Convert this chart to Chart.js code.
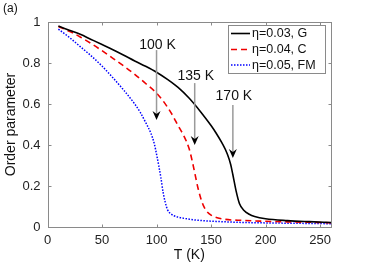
<!DOCTYPE html>
<html>
<head>
<meta charset="utf-8">
<script src="https://cdn.jsdelivr.net/npm/chart.js@4.4.1/dist/chart.umd.min.js"></script>
<style>
html,body{margin:0;padding:0;background:#fff;}
#wrap{width:366px;height:267px;position:relative;}
</style>
</head>
<body>
<div id="wrap"><canvas id="c" width="366" height="267"></canvas></div>
<script>
// ---- data ----
const tG = [10,20,30,40,50,60,70,80,90,100,110,120,130,140,150,155,160,165,168,170,173,176,180,185,190,200,220,240,260];
const vG = [0.98,0.96,0.94,0.915,0.89,0.865,0.838,0.81,0.784,0.755,0.72,0.68,0.628,0.565,0.495,0.455,0.41,0.355,0.305,0.255,0.175,0.115,0.082,0.062,0.051,0.04,0.031,0.026,0.022];
const tC = [10,20,30,40,50,60,70,80,90,100,105,110,115,120,125,130,133,136,138,140,143,146,150,160,180,200,220,240,260];
const vC = [0.978,0.955,0.927,0.895,0.86,0.823,0.785,0.745,0.70,0.653,0.622,0.585,0.542,0.492,0.445,0.38,0.315,0.24,0.19,0.15,0.104,0.077,0.058,0.04,0.032,0.028,0.025,0.023,0.021];
const tF = [10,20,30,40,50,60,70,80,85,90,95,98,100,102,104,106,108,110,113,116,120,130,140,160,180,200,230,260];
const vF = [0.965,0.925,0.88,0.835,0.785,0.728,0.667,0.6,0.56,0.51,0.455,0.405,0.355,0.30,0.24,0.17,0.12,0.085,0.065,0.055,0.048,0.038,0.032,0.026,0.022,0.02,0.018,0.016];
const seriesLabels = ['η=0.03, G','η=0.04, C','η=0.05, FM'];
const xTicks = [0,50,100,150,200,250];
const yTicks = [0,0.2,0.4,0.6,0.8,1];
const arrowT = [100,135,170];
const arrowFrom = [0.863,0.702,0.595];
const arrowTo = [0.522,0.40,0.337];
const arrowText = ['100 K','135 K','170 K'];
const arrowTextY = [0.888,0.737,0.636];

const FONT = '"Liberation Sans", Arial, Helvetica, sans-serif';
const pts = (t,v)=>t.map((x,i)=>({x:x,y:v[i]}));

const overlay = {
  id:'overlay',
  afterDraw(chart){
    const ctx = chart.ctx, ca = chart.chartArea;
    const xs = chart.scales.x, ys = chart.scales.y;
    ctx.save();
    // box + inward ticks
    ctx.strokeStyle = '#8a8a8a'; ctx.lineWidth = 1;
    const L = Math.round(ca.left)+0.5, R = Math.round(ca.right)+0.5, T = Math.round(ca.top)+0.5, B = Math.round(ca.bottom)+0.5;
    ctx.strokeRect(L, T, R-L, B-T);
    ctx.beginPath();
    xTicks.forEach(v=>{ const px = Math.round(xs.getPixelForValue(v))+0.5;
      ctx.moveTo(px,B); ctx.lineTo(px,B-3); ctx.moveTo(px,T); ctx.lineTo(px,T+3); });
    yTicks.forEach(v=>{ const py = Math.round(ys.getPixelForValue(v))+0.5;
      ctx.moveTo(L,py); ctx.lineTo(L+3,py); ctx.moveTo(R,py); ctx.lineTo(R-3,py); });
    ctx.stroke();

    // arrows
    arrowT.forEach((t,i)=>{
      const x = xs.getPixelForValue(t);
      const y0 = ys.getPixelForValue(arrowFrom[i]);
      const y1 = ys.getPixelForValue(arrowTo[i]);
      ctx.strokeStyle = '#9a9a9a'; ctx.lineWidth = 1.5;
      ctx.beginPath(); ctx.moveTo(x,y0); ctx.lineTo(x,y1-5); ctx.stroke();
      ctx.fillStyle = '#000';
      ctx.beginPath();
      ctx.moveTo(x,y1); ctx.lineTo(x-4,y1-9); ctx.lineTo(x,y1-6); ctx.lineTo(x+4,y1-9); ctx.closePath(); ctx.fill();
      ctx.fillStyle = '#111';
      ctx.font = '14px '+FONT; ctx.textAlign='center'; ctx.textBaseline='middle';
      ctx.fillText(arrowText[i], x+1, ys.getPixelForValue(arrowTextY[i]));
    });

    // legend
    const lx = 228.5, ly = 25.5, lw = 97, lh = 48;
    ctx.fillStyle = '#fff'; ctx.fillRect(lx,ly,lw,lh);
    ctx.strokeStyle = '#8a8a8a'; ctx.lineWidth = 1; ctx.strokeRect(lx,ly,lw,lh);
    const rows = [33.5, 49.5, 65];
    chart.data.datasets.forEach((ds,i)=>{
      ctx.strokeStyle = ds.borderColor; ctx.lineWidth = ds.borderWidth;
      ctx.setLineDash(ds.borderDash || []);
      ctx.beginPath(); ctx.moveTo(231, rows[i]); ctx.lineTo(250, rows[i]); ctx.stroke();
      ctx.setLineDash([]);
      ctx.fillStyle = '#111'; ctx.font = '12.5px '+FONT; ctx.textAlign='left'; ctx.textBaseline='middle';
      ctx.fillText(ds.label, 252, rows[i]+0.5);
    });

    // axis titles and panel label
    ctx.fillStyle = '#111';
    ctx.font = '14px '+FONT; ctx.textAlign='center'; ctx.textBaseline='middle';
    ctx.fillText('T (K)', (ca.left+ca.right)/2, 255);
    ctx.save();
    ctx.translate(11, (ca.top+ca.bottom)/2);
    ctx.rotate(-Math.PI/2);
    ctx.fillText('Order parameter', 0, 0);
    ctx.restore();
    ctx.font = '12px '+FONT; ctx.textAlign='left';
    ctx.fillText('(a)', 3, 9);
    ctx.restore();
  }
};

new Chart(document.getElementById('c'), {
  type:'line',
  data:{ datasets:[
    {label:seriesLabels[0], data:pts(tG,vG), borderColor:'#000000', borderWidth:1.6, pointRadius:0, cubicInterpolationMode:'monotone', fill:false},
    {label:seriesLabels[1], data:pts(tC,vC), borderColor:'#ee0000', borderWidth:1.6, borderDash:[6,4], pointRadius:0, cubicInterpolationMode:'monotone', fill:false},
    {label:seriesLabels[2], data:pts(tF,vF), borderColor:'#0000ff', borderWidth:1.5, borderDash:[1.5,1.5], pointRadius:0, cubicInterpolationMode:'monotone', fill:false}
  ]},
  options:{
    responsive:false, animation:false, devicePixelRatio:1,
    layout:{padding:{top:22,right:35,left:0,bottom:0}},
    plugins:{legend:{display:false}, tooltip:{enabled:false}},
    scales:{
      x:{type:'linear', min:0, max:260,
        afterBuildTicks(s){ s.ticks = xTicks.map(v=>({value:v})); },
        afterFit(s){ s.height = 40; },
        grid:{display:false, drawTicks:false}, border:{display:false},
        ticks:{padding:6, color:'#222', font:{family:FONT, size:13}, maxRotation:0, callback:v=>String(v)}
      },
      y:{type:'linear', min:0, max:1,
        afterBuildTicks(s){ s.ticks = yTicks.map(v=>({value:v})); },
        afterFit(s){ s.width = 47.5; },
        grid:{display:false, drawTicks:false}, border:{display:false},
        ticks:{padding:7, color:'#222', font:{family:FONT, size:13}, callback:v=>String(v)}
      }
    }
  },
  plugins:[overlay]
});
</script>
</body>
</html>
